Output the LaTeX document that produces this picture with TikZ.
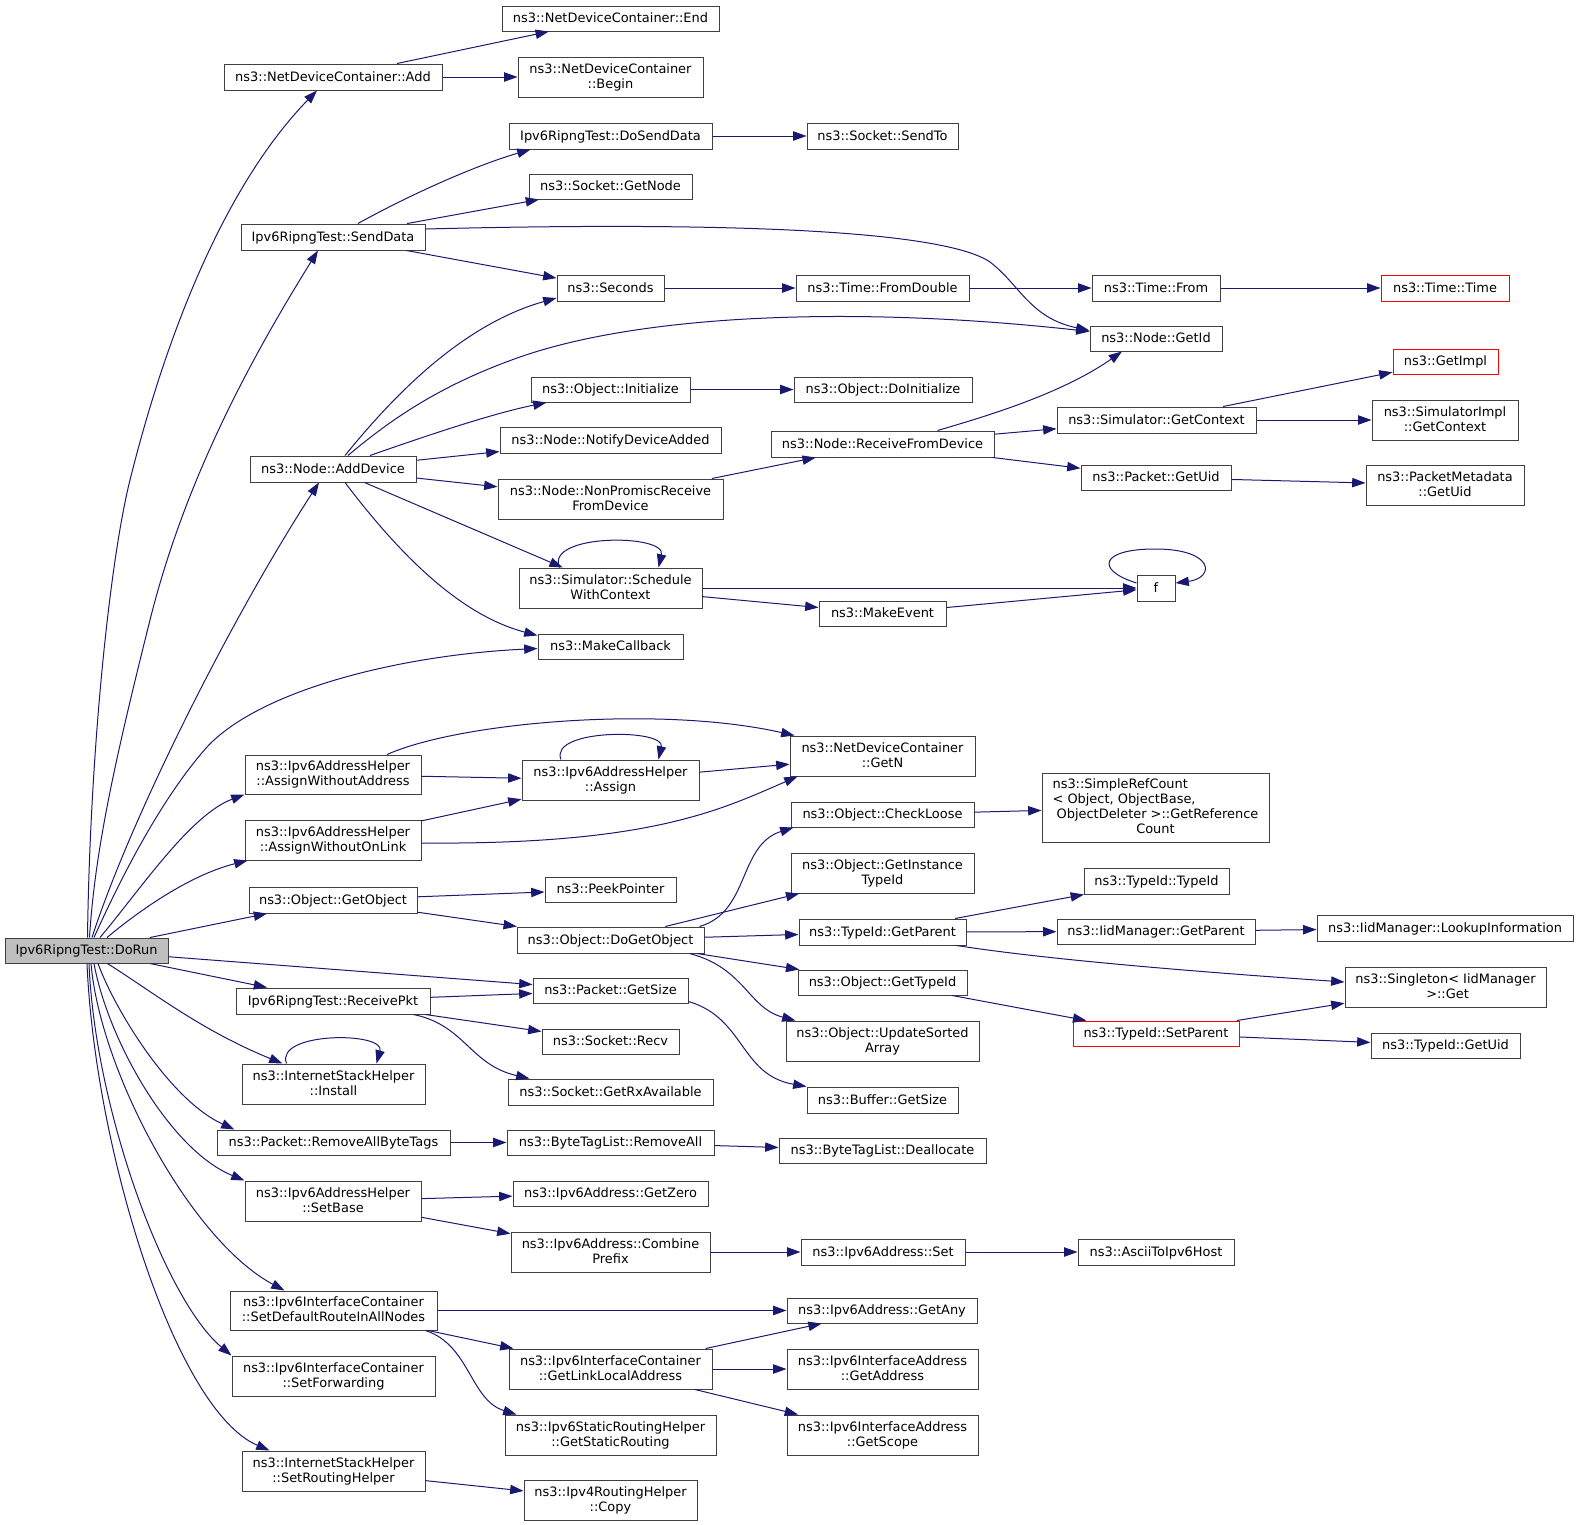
\documentclass[tikz,border=0pt]{standalone}
\usepackage{fontspec}
\setmainfont{DejaVu Sans}
\usetikzlibrary{arrows.meta,calc}
\definecolor{edgec}{RGB}{25,25,112}
\definecolor{boxc}{RGB}{64,64,64}
\definecolor{runc}{RGB}{191,191,191}
\tikzset{
 gbox/.style={rectangle, draw=boxc, line width=0.75pt, fill=white, inner sep=0pt, align=center,
   font=\fontsize{9.7}{11.25}\selectfont,
   execute at begin node={\rule[-2pt]{0pt}{10.3pt}},
   execute at end node={\rule[-2pt]{0pt}{10.3pt}}},
 redbox/.style={draw=red},
 runbox/.style={fill=runc},
 edg/.style={draw=edgec, line width=0.75pt, -{Triangle[length=10pt,width=7pt]}},
}
\newcommand\gvbox[7][]{\node[gbox,#1,minimum width={(#5-#3)*0.75pt},minimum height={(#6-#4)*0.75pt}] (#2) at ({(#3+#5)/2},{(#4+#6)/2}) {#7};}
\begin{document}
\begin{tikzpicture}[x=0.75pt,y=-0.75pt]
\useasboundingbox (0,0) rectangle (1579,1525);
% rank 0
\gvbox[runbox]{DoRun}{5}{938}{168}{963}{Ipv6RipngTest::DoRun}
% rank 1
\gvbox{NDCAdd}{224}{64}{442}{90}{ns3::NetDeviceContainer::Add}
\gvbox{SendData}{241}{224}{425}{250}{Ipv6RipngTest::SendData}
\gvbox{AddDevice}{250}{456}{416}{482}{ns3::Node::AddDevice}
\gvbox{AWA}{245}{755}{421}{794}{ns3::Ipv6AddressHelper\\::AssignWithoutAddress}
\gvbox{AWOL}{245}{820}{421}{860}{ns3::Ipv6AddressHelper\\::AssignWithoutOnLink}
\gvbox{GetObject}{249}{887}{417}{913}{ns3::Object::GetObject}
\gvbox{ReceivePkt}{236}{988}{430}{1014}{Ipv6RipngTest::ReceivePkt}
\gvbox{ISH}{242}{1064}{425}{1104}{ns3::InternetStackHelper\\::Install}
\gvbox{RABT}{217}{1130}{450}{1155}{ns3::Packet::RemoveAllByteTags}
\gvbox{SetBase}{245}{1181}{421}{1221}{ns3::Ipv6AddressHelper\\::SetBase}
\gvbox{SDR}{230}{1291}{437}{1330}{ns3::Ipv6InterfaceContainer\\::SetDefaultRouteInAllNodes}
\gvbox{SetFwd}{232}{1356}{435}{1396}{ns3::Ipv6InterfaceContainer\\::SetForwarding}
\gvbox{SRH}{242}{1451}{425}{1491}{ns3::InternetStackHelper\\::SetRoutingHelper}
% rank 2
\gvbox{NDCEnd}{502}{6}{719}{31}{ns3::NetDeviceContainer::End}
\gvbox{NDCBegin}{518}{57}{703}{97}{ns3::NetDeviceContainer\\::Begin}
\gvbox{DoSendData}{509}{123}{712}{149}{Ipv6RipngTest::DoSendData}
\gvbox{SockGetNode}{529}{174}{692}{199}{ns3::Socket::GetNode}
\gvbox{Seconds}{557}{275}{664}{301}{ns3::Seconds}
\gvbox{ObjInit}{531}{377}{690}{402}{ns3::Object::Initialize}
\gvbox{NotifyDA}{500}{427}{721}{453}{ns3::Node::NotifyDeviceAdded}
\gvbox{NonPromisc}{498}{479}{723}{519}{ns3::Node::NonPromiscReceive\\FromDevice}
\gvbox{Schedule}{519}{568}{702}{608}{ns3::Simulator::Schedule\\WithContext}
\gvbox{MakeCb}{538}{634}{683}{659}{ns3::MakeCallback}
\gvbox{Assign}{522}{760}{699}{800}{ns3::Ipv6AddressHelper\\::Assign}
\gvbox{PeekPtr}{545}{877}{676}{902}{ns3::PeekPointer}
\gvbox{DoGetObj}{517}{927}{704}{953}{ns3::Object::DoGetObject}
\gvbox{PktGetSize}{533}{978}{688}{1003}{ns3::Packet::GetSize}
\gvbox{SockRecv}{542}{1029}{679}{1054}{ns3::Socket::Recv}
\gvbox{GetRx}{508}{1079}{713}{1105}{ns3::Socket::GetRxAvailable}
\gvbox{BTLRemove}{507}{1130}{714}{1155}{ns3::ByteTagList::RemoveAll}
\gvbox{GetZero}{513}{1181}{708}{1206}{ns3::Ipv6Address::GetZero}
\gvbox{Combine}{511}{1232}{710}{1272}{ns3::Ipv6Address::Combine\\Prefix}
\gvbox{GetLLA}{509}{1349}{712}{1389}{ns3::Ipv6InterfaceContainer\\::GetLinkLocalAddress}
\gvbox{GetSR}{505}{1415}{716}{1455}{ns3::Ipv6StaticRoutingHelper\\::GetStaticRouting}
\gvbox{VFourCopy}{524}{1480}{697}{1520}{ns3::Ipv4RoutingHelper\\::Copy}
% rank 3
\gvbox{SendTo}{807}{123}{958}{149}{ns3::Socket::SendTo}
\gvbox{FromDouble}{796}{275}{969}{301}{ns3::Time::FromDouble}
\gvbox{DoInit}{794}{377}{972}{402}{ns3::Object::DoInitialize}
\gvbox{RecvFD}{771}{431}{994}{457}{ns3::Node::ReceiveFromDevice}
\gvbox{MakeEvent}{819}{601}{946}{626}{ns3::MakeEvent}
\gvbox{GetN}{790}{736}{975}{776}{ns3::NetDeviceContainer\\::GetN}
\gvbox{CheckLoose}{791}{802}{974}{827}{ns3::Object::CheckLoose}
\gvbox{GetInstTid}{791}{853}{974}{893}{ns3::Object::GetInstance\\TypeId}
\gvbox{TidGetParent}{799}{919}{966}{945}{ns3::TypeId::GetParent}
\gvbox{ObjGetTid}{798}{970}{967}{995}{ns3::Object::GetTypeId}
\gvbox{UpdSorted}{786}{1021}{979}{1061}{ns3::Object::UpdateSorted\\Array}
\gvbox{BufGetSize}{807}{1087}{958}{1113}{ns3::Buffer::GetSize}
\gvbox{BTLDealloc}{779}{1138}{986}{1163}{ns3::ByteTagList::Deallocate}
\gvbox{AddrSet}{801}{1239}{965}{1265}{ns3::Ipv6Address::Set}
\gvbox{GetAny}{787}{1298}{977}{1323}{ns3::Ipv6Address::GetAny}
\gvbox{IfGetAddr}{787}{1349}{978}{1389}{ns3::Ipv6InterfaceAddress\\::GetAddress}
\gvbox{IfGetScope}{787}{1415}{978}{1455}{ns3::Ipv6InterfaceAddress\\::GetScope}
% rank 4
\gvbox{TimeFrom}{1092}{275}{1220}{301}{ns3::Time::From}
\gvbox{NodeGetId}{1090}{326}{1222}{351}{ns3::Node::GetId}
\gvbox{SimGetCtx}{1057}{407}{1256}{433}{ns3::Simulator::GetContext}
\gvbox{PktGetUid}{1081}{465}{1231}{490}{ns3::Packet::GetUid}
\gvbox{F}{1137}{575}{1175}{601}{f}
\gvbox[execute at begin node={},execute at end node={}]{SRC}{1042}{773}{1269}{842}{\begin{tabular}{@{}l@{}}ns3::SimpleRefCount\\< Object, ObjectBase,\\\ ObjectDeleter >::GetReference\\\multicolumn{1}{@{}c@{}}{Count}\end{tabular}}
\gvbox{TidTid}{1084}{868}{1229}{894}{ns3::TypeId::TypeId}
\gvbox{IidGetParent}{1057}{919}{1255}{944}{ns3::IidManager::GetParent}
\gvbox[redbox]{SetParent}{1073}{1021}{1239}{1046}{ns3::TypeId::SetParent}
\gvbox{Ascii}{1078}{1239}{1234}{1265}{ns3::AsciiToIpv6Host}
% rank 5
\gvbox[redbox]{TimeTime}{1381}{275}{1509}{301}{ns3::Time::Time}
\gvbox[redbox]{GetImpl}{1393}{349}{1498}{374}{ns3::GetImpl}
\gvbox{SimImplCtx}{1372}{400}{1518}{440}{ns3::SimulatorImpl\\::GetContext}
\gvbox{PMGetUid}{1366}{465}{1524}{505}{ns3::PacketMetadata\\::GetUid}
\gvbox{Lookup}{1317}{915}{1573}{941}{ns3::IidManager::LookupInformation}
\gvbox{Singleton}{1345}{967}{1546}{1007}{ns3::Singleton< IidManager\\\ >::Get}
\gvbox{TidGetUid}{1371}{1033}{1520}{1058}{ns3::TypeId::GetUid}

% ---- edges from DoRun
\draw[edg] ($(DoRun.north)+(1,0)$) .. controls (90,750) and (110,560) .. (130,480) .. controls (170,320) and (230,180) .. ($(NDCAdd.south)+(-16,0)$);
\draw[edg] ($(DoRun.north)+(3,0)$) .. controls (95,850) and (115,760) .. (150,620) .. controls (185,480) and (250,360) .. ($(SendData.south)+(-15,0)$);
\draw[edg] ($(DoRun.north)+(5.5,0)$) .. controls (130,820) and (230,620) .. ($(AddDevice.south)+(-14,0)$);
\draw[edg] ($(DoRun.north)+(7.5,0)$) .. controls (120,880) and (160,800) .. (207,747) .. controls (260,690) and (400,655) .. ($(MakeCb.west)+(0,2)$);
\draw[edg] ($(DoRun.north)+(13.5,0)$) .. controls (140,890) and (190,815) .. (AWA.south west);
\draw[edg] ($(DoRun.north)+(20.5,0)$) .. controls (140,910) and (190,875) .. ($(AWOL.south west)+(3,0)$);
\draw[edg] (DoRun) -- (GetObject);
\draw[edg] (DoRun) -- (PktGetSize);
\draw[edg] (DoRun) -- (ReceivePkt);
\draw[edg] (DoRun) .. controls (150,990) and (200,1030) .. ($(ISH.north west)+(41,0)$);
\draw[edg] ($(DoRun.south)+(11.5,0)$) .. controls (115,1010) and (170,1100) .. ($(RABT.north west)+(18,0)$);
\draw[edg] ($(DoRun.south)+(7.5,0)$) .. controls (108,1040) and (170,1150) .. (SetBase.north west);
\draw[edg] ($(DoRun.south)+(4.5,0)$) .. controls (100,1070) and (190,1240) .. ($(SDR.north west)+(55,0)$);
\draw[edg] ($(DoRun.south)+(2.5,0)$) .. controls (95,1110) and (165,1300) .. (SetFwd.north west);
\draw[edg] ($(DoRun.south)+(0.5,0)$) .. controls (95,1150) and (175,1410) .. ($(SRH.north west)+(28,0)$);

% ---- NetDeviceContainer::Add
\draw[edg] (NDCAdd) -- (NDCEnd);
\draw[edg] (NDCAdd) -- (NDCBegin);

% ---- SendData
\draw[edg] ($(SendData.north)+(25,0)$) .. controls (400,200) and (470,167) .. ($(DoSendData.south west)+(22,0)$);
\draw[edg] (SendData) -- (SockGetNode);
\draw[edg] ($(SendData.east)+(0,-8)$) .. controls (700,222) and (940,228) .. (990,262) .. controls (1020,285) and (1030,318) .. ($(NodeGetId.west)+(0,-8)$);
\draw[edg] (SendData) -- (Seconds);
\draw[edg] (DoSendData) -- (SendTo);
\draw[edg] (Seconds) -- (FromDouble);
\draw[edg] (FromDouble) -- (TimeFrom);
\draw[edg] (TimeFrom) -- (TimeTime);

% ---- AddDevice
\draw[edg] ($(AddDevice.north)+(12,0)$) .. controls (390,400) and (460,325) .. ($(Seconds.west)+(0,10)$);
\draw[edg] ($(AddDevice.north)+(15,0)$) .. controls (390,420) and (440,385) .. (520,357) .. controls (640,315) and (850,305) .. ($(NodeGetId.west)+(0,-7)$);
\draw[edg] ($(AddDevice.north)+(37,0)$) .. controls (420,438) and (490,414) .. ($(ObjInit.south west)+(16,0)$);
\draw[edg] (AddDevice) -- (NotifyDA);
\draw[edg] (AddDevice) -- (NonPromisc);
\draw[edg] (AddDevice) -- (Schedule);
\draw[edg] ($(AddDevice.south)+(12,0)$) .. controls (400,555) and (460,615) .. ($(MakeCb.north west)+(0,2)$);
\draw[edg] (ObjInit) -- (DoInit);
\draw[edg] (NonPromisc) -- (RecvFD);
\draw[edg] ($(RecvFD.north)+(55,0)$) .. controls (980,418) and (1060,395) .. ($(NodeGetId.south)+(-34,0)$);
\draw[edg] (RecvFD) -- (SimGetCtx);
\draw[edg] (RecvFD) -- (PktGetUid);
\draw[edg] (SimGetCtx) -- (GetImpl);
\draw[edg] (SimGetCtx) -- (SimImplCtx);
\draw[edg] (PktGetUid) -- (PMGetUid);

% ---- Schedule
\draw[edg] ($(Schedule.north)+(-51,0)$) .. controls ($(Schedule.north)+(-66,-34)$) and ($(Schedule.north)+(56,-34)$) .. ($(Schedule.north)+(48,0)$);
\draw[edg] (Schedule) -- (F);
\draw[edg] (Schedule) -- (MakeEvent);
\draw[edg] (MakeEvent) -- (F);
\draw[edg] ($(F.west)+(0,-5)$) .. controls ($(F)+(-61,-18)$) and ($(F)+(-56,-39)$) .. ($(F)+(-1,-39)$) .. controls ($(F)+(59,-39)$) and ($(F)+(59,-10)$) .. ($(F.east)+(0,-5)$);

% ---- Assign family
\draw[edg] ($(AWA.north)+(54,0)$) .. controls (460,722) and (660,705) .. ($(GetN.north west)+(5,0)$);
\draw[edg] (AWA) -- (Assign);
\draw[edg] (AWOL) -- (Assign);
\draw[edg] ($(AWOL.east)+(0,3)$) .. controls (650,845) and (720,810) .. ($(GetN.south west)+(8,0)$);
\draw[edg] ($(Assign.north)+(-49.5,0)$) .. controls ($(Assign.north)+(-62,-31)$) and ($(Assign.north)+(55,-31)$) .. ($(Assign.north)+(48,0)$);
\draw[edg] (Assign) -- (GetN);

% ---- GetObject
\draw[edg] (GetObject) -- (PeekPtr);
\draw[edg] (GetObject) -- (DoGetObj);
\draw[edg] ($(DoGetObj.north)+(89,0)$) .. controls (750,912) and (738,845) .. ($(CheckLoose.south west)+(3,0)$);
\draw[edg] (DoGetObj) -- (GetInstTid);
\draw[edg] (DoGetObj) -- (TidGetParent);
\draw[edg] (DoGetObj) -- (ObjGetTid);
\draw[edg] ($(DoGetObj.south)+(79,0)$) .. controls (745,968) and (748,1008) .. ($(UpdSorted.north west)+(10,0)$);
\draw[edg] (CheckLoose) -- (SRC);
\draw[edg] (TidGetParent) -- (TidTid);
\draw[edg] (TidGetParent) -- (IidGetParent);
\draw[edg] ($(TidGetParent.south east)+(-10,0)$) .. controls (1050,960) and (1200,972) .. ($(Singleton.west)+(0,-5)$);
\draw[edg] (IidGetParent) -- (Lookup);
\draw[edg] (ObjGetTid) -- (SetParent);
\draw[edg] (SetParent) -- (Singleton);
\draw[edg] (SetParent) -- (TidGetUid);

% ---- ReceivePkt
\draw[edg] (ReceivePkt) -- (PktGetSize);
\draw[edg] (ReceivePkt) -- (SockRecv);
\draw[edg] ($(ReceivePkt.south east)+(-17,0)$) .. controls (465,1025) and (470,1065) .. ($(GetRx.north west)+(22,0)$);
\draw[edg] ($(PktGetSize.east)+(0,11)$) .. controls (745,1018) and (740,1075) .. (BufGetSize.north west);

% ---- Install loop
\draw[edg] ($(ISH.north)+(-47,0)$) .. controls ($(ISH.north)+(-59,-32)$) and ($(ISH.north)+(52,-32)$) .. ($(ISH.north)+(43,0)$);

% ---- lower part
\draw[edg] (RABT) -- (BTLRemove);
\draw[edg] (BTLRemove) -- (BTLDealloc);
\draw[edg] (SetBase) -- (GetZero);
\draw[edg] (SetBase) -- (Combine);
\draw[edg] (Combine) -- (AddrSet);
\draw[edg] (AddrSet) -- (Ascii);
\draw[edg] (SDR) -- (GetAny);
\draw[edg] (SDR) -- (GetLLA);
\draw[edg] ($(SDR.south east)+(-12,0)$) .. controls (470,1345) and (470,1400) .. ($(GetSR.north west)+(12,0)$);
\draw[edg] (GetLLA) -- (GetAny);
\draw[edg] (GetLLA) -- (IfGetAddr);
\draw[edg] (GetLLA) -- (IfGetScope);
\draw[edg] (SRH) -- (VFourCopy);
\end{tikzpicture}
\end{document}
